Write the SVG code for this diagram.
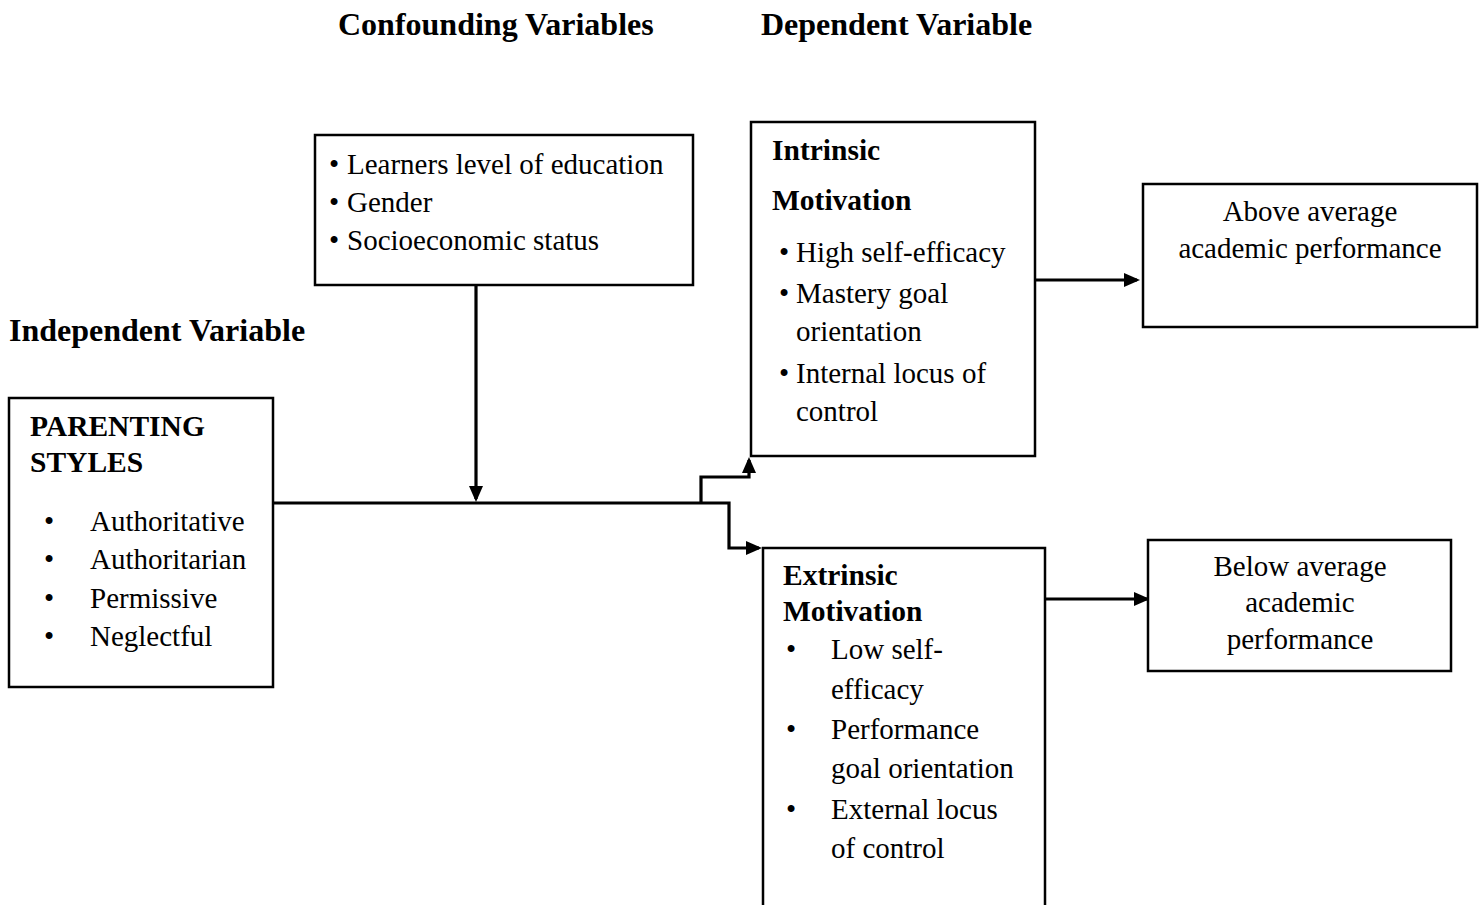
<svg xmlns="http://www.w3.org/2000/svg" width="1483" height="905" viewBox="0 0 1483 905">
<style>
text{font-family:"Liberation Serif","Times New Roman",serif;font-size:29px;fill:#000}
.b{font-weight:bold;font-size:29.5px}
.t{font-weight:bold;font-size:32px}
.box{fill:#fff;stroke:#000;stroke-width:2.5}
.ln{fill:none;stroke:#000;stroke-width:3.2}
.c{text-anchor:middle}
.d{text-anchor:middle}
</style>
<defs>
<marker id="ah" markerWidth="16" markerHeight="14" refX="13" refY="7" orient="auto" markerUnits="userSpaceOnUse">
<path d="M0,0 L16,7 L0,14 z" fill="#000"/>
</marker>
</defs>
<rect width="1483" height="905" fill="#fff"/>
<g id="titles">
<text class="t" x="338" y="35">Confounding Variables</text>
<text class="t" x="761" y="35">Dependent Variable</text>
<text class="t" x="9" y="341">Independent Variable</text>
</g>
<g id="connectors">
<path class="ln" d="M476,285 V499" marker-end="url(#ah)"/>
<path class="ln" d="M273,503 H701"/>
<path class="ln" d="M701,503 V477 H749 V460" marker-end="url(#ah)"/>
<path class="ln" d="M701,503 H729 V548 H759" marker-end="url(#ah)"/>
<path class="ln" d="M1035,280 H1137" marker-end="url(#ah)"/>
<path class="ln" d="M1042,599 H1147" marker-end="url(#ah)"/>
</g>
<g id="confounding">
<rect class="box" x="315" y="135" width="378" height="150"/>
<text class="d" x="334" y="174">•</text><text x="347" y="174">Learners level of education</text>
<text class="d" x="334" y="212">•</text><text x="347" y="212">Gender</text>
<text class="d" x="334" y="250">•</text><text x="347" y="250">Socioeconomic status</text>
</g>
<g id="parenting">
<rect class="box" x="9" y="398" width="264" height="289"/>
<text class="b" x="30" y="436">PARENTING</text>
<text class="b" x="30" y="472">STYLES</text>
<text class="d" x="49" y="531">•</text><text x="90" y="531">Authoritative</text>
<text class="d" x="49" y="569">•</text><text x="90" y="569">Authoritarian</text>
<text class="d" x="49" y="608">•</text><text x="90" y="608">Permissive</text>
<text class="d" x="49" y="646">•</text><text x="90" y="646">Neglectful</text>
</g>
<g id="intrinsic">
<rect class="box" x="751" y="122" width="284" height="334"/>
<text class="b" x="772" y="160">Intrinsic</text>
<text class="b" x="772" y="210">Motivation</text>
<text class="d" x="784" y="262">•</text><text x="796" y="262">High self-efficacy</text>
<text class="d" x="784" y="303">•</text><text x="796" y="303">Mastery goal</text>
<text x="796" y="341">orientation</text>
<text class="d" x="784" y="383">•</text><text x="796" y="383">Internal locus of</text>
<text x="796" y="421">control</text>
</g>
<g id="extrinsic">
<rect class="box" x="763" y="548" width="282" height="370"/>
<text class="b" x="783" y="585">Extrinsic</text>
<text class="b" x="783" y="621">Motivation</text>
<text class="d" x="791" y="659">•</text><text x="831" y="659">Low self-</text>
<text x="831" y="699">efficacy</text>
<text class="d" x="791" y="739">•</text><text x="831" y="739">Performance</text>
<text x="831" y="778">goal orientation</text>
<text class="d" x="791" y="819">•</text><text x="831" y="819">External locus</text>
<text x="831" y="858">of control</text>
</g>
<g id="above">
<rect class="box" x="1143" y="184" width="334" height="143"/>
<text class="c" x="1310" y="221">Above average</text>
<text class="c" x="1310" y="258">academic performance</text>
</g>
<g id="below">
<rect class="box" x="1148" y="540" width="303" height="131"/>
<text class="c" x="1300" y="576">Below average</text>
<text class="c" x="1300" y="612">academic</text>
<text class="c" x="1300" y="649">performance</text>
</g>
</svg>
